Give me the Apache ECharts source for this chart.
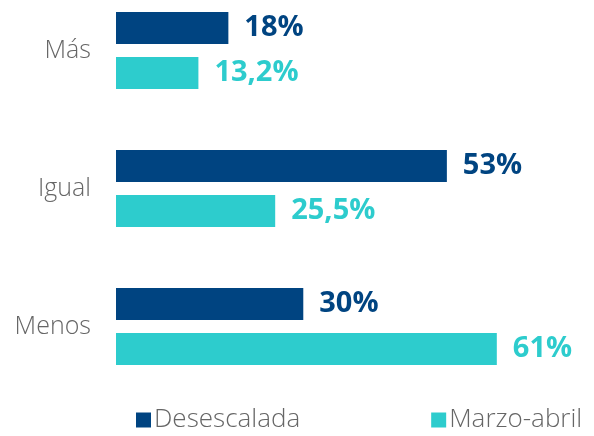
<!DOCTYPE html>
<html><head><meta charset="utf-8">
<script src="https://cdn.jsdelivr.net/npm/echarts@6/dist/echarts.min.js"></script>
<style>html,body{margin:0;padding:0;background:#fff}#c{width:594px;height:436px}</style>
</head><body><div id="c"></div>
<script>
const categories = ['Más', 'Igual', 'Menos'];
const desescalada = [18, 53, 30];
const marzoAbril = [13.2, 25.5, 61];
const desescaladaLabels = ['18%', '53%', '30%'];
const marzoAbrilLabels = ['13,2%', '25,5%', '61%'];
const seriesNames = ['Desescalada', 'Marzo-abril'];

const chart = echarts.init(document.getElementById('c'));
const labelFont = {fontFamily: 'Open Sans', fontWeight: 'bold', fontSize: 29};
chart.setOption({
  animation: false,
  grid: {left: 116, top: 50.5, height: 276, width: 437},
  xAxis: {type: 'value', min: 0, max: 70, show: false},
  yAxis: {
    type: 'category', data: categories, inverse: true, boundaryGap: false,
    axisLine: {show: false}, axisTick: {show: false}, splitLine: {show: false},
    axisLabel: {color: '#666', fontFamily: 'Open Sans', fontWeight: 300, fontSize: 25, margin: 25}
  },
  legend: {
    bottom: -2, left: 131, itemGap: 131, itemWidth: 15, itemHeight: 15, icon: 'rect',
    textStyle: {color: '#666', fontFamily: 'Open Sans', fontWeight: 300, fontSize: 26, padding: [0,0,0,-2]},
    data: seriesNames
  },
  series: [
    {
      name: seriesNames[0], type: 'bar', data: desescalada, barWidth: 32, barGap: '40%',
      itemStyle: {color: '#004481'},
      label: {show: true, position: 'right', distance: 16, color: '#004481', ...labelFont,
        formatter: p => desescaladaLabels[p.dataIndex]}
    },
    {
      name: seriesNames[1], type: 'bar', data: marzoAbril, barWidth: 32,
      itemStyle: {color: '#2DCCCD'},
      label: {show: true, position: 'right', distance: 16, color: '#2DCCCD', ...labelFont,
        formatter: p => marzoAbrilLabels[p.dataIndex]}
    }
  ]
});
</script></body></html>
